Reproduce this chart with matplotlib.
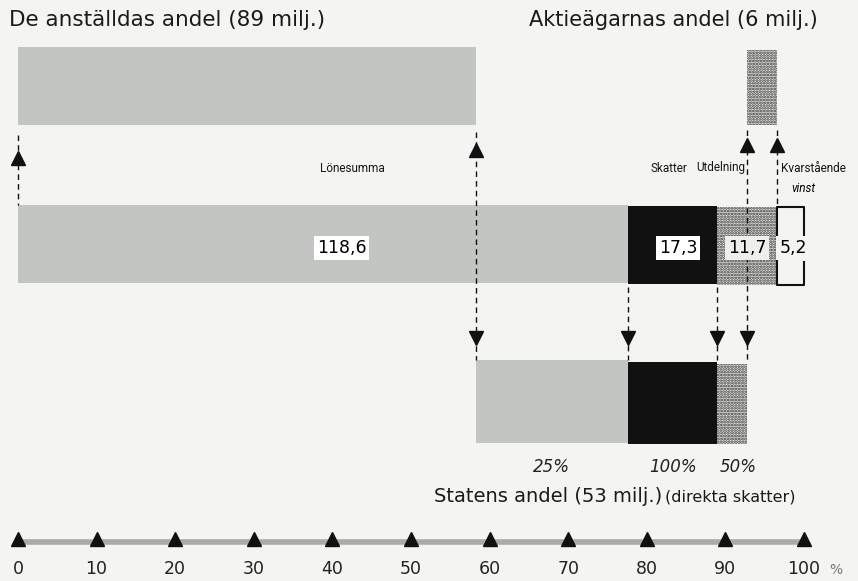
import numpy as np
import matplotlib.pyplot as plt

# data (milj. kr)
parts = ['Lönesumma', 'Skatter', 'Utdelning', 'Kvarstående vinst']
values = [118.6, 17.3, 11.7, 5.2]
state_rates = [25, 100, 50]          # statens andel av lön, skatter, utdelning (%)
ticks = [0, 10, 20, 30, 40, 50, 60, 70, 80, 90, 100]

total = sum(values)
pct = [v / total * 100 for v in values]
edges = np.concatenate([[0], np.cumsum(pct)])

# andelar i procent av totalen
state_wage = pct[0] * state_rates[0] / 100
empl = pct[0] - state_wage
state_div = pct[2] * state_rates[2] / 100
owner = pct[2] - state_div

GREY = '#c3c5c3'
BG = '#f4f4f2'
DOT = '#3a3a3a'
plt.rcParams['hatch.linewidth'] = 1.3

fig = plt.figure(figsize=(8.58, 5.81), dpi=100, facecolor=BG)
ax = fig.add_axes([0, 0, 1, 1])
ax.set_facecolor(BG)
px = 7.86
ax.set_xlim(-18 / px, (858 - 18) / px)
ax.set_ylim(581, 0)
ax.axis('off')

def bar(x0, w, y0, y1, kind):
    if kind == 'grey':
        ax.barh((y0 + y1) / 2, w, left=x0, height=y1 - y0, color=GREY, lw=0)
    elif kind == 'black':
        ax.barh((y0 + y1) / 2, w, left=x0, height=y1 - y0, color='#111111', lw=0)
    else:
        ax.barh((y0 + y1) / 2, w, left=x0, height=y1 - y0, color='#e2e2e0',
                edgecolor=DOT, hatch='......', lw=0)

def dash(x, y0, y1):
    ax.plot([x, x], [y0, y1], color='#111111', lw=1, ls=(0, (4, 3)))

def tri(x, y, up=True):
    ax.plot(x, y, marker='^' if up else 'v', color='#111111', ms=10, mec='#111111')

# topp: anställdas och aktieägarnas andel
bar(0, empl, 47, 125, 'grey')
bar(edges[3] - owner, owner, 50, 125, 'dot')

# mitten: fördelning av förädlingsvärdet
bar(edges[0], pct[0], 205, 283, 'grey')
bar(edges[1], pct[1], 206, 284, 'black')
bar(edges[2], pct[2], 207, 285, 'dot')
kx0, kx1 = edges[3], edges[4]
ax.plot([kx0, kx0, kx1, kx1], [240, 207, 207, 236], color='#111111', lw=1.5)
ax.plot([kx0, kx0, kx1, kx1], [240, 285, 285, 262], color='#111111', lw=1.5)

# botten: statens andel
bar(edges[1] - state_wage, state_wage, 360, 443, 'grey')
bar(edges[1], pct[1], 362, 444, 'black')
bar(edges[2], state_div, 364, 444, 'dot')

# pilar
dash(0, 135, 205); tri(0, 158)
dash(empl, 132, 360); tri(empl, 150); tri(empl, 338, False)
dash(edges[1], 287, 360); tri(edges[1], 338, False)
dash(edges[2], 287, 360); tri(edges[2], 338, False)
dash(edges[3] - owner, 130, 362); tri(edges[3] - owner, 145); tri(edges[3] - owner, 338, False)
dash(edges[3], 130, 205); tri(edges[3], 145)

# rubriker
ax.text(-1.1, 20, 'De anställdas andel (89 milj.)', fontsize=15.5, va='center', ha='left',
        color='#1a1a1a')
ax.text(65, 20, 'Aktieägarnas andel (6 milj.)', fontsize=15, va='center', ha='left',
        color='#1a1a1a')
ax.text(82, 497, 'Statens andel (53 milj.)', fontsize=14, va='center', ha='right',
        color='#1a1a1a')
ax.text(82.3, 497, '(direkta skatter)', fontsize=11.5, va='center', ha='left',
        color='#1a1a1a')

# etiketter
narrow = ['Liberation Sans Narrow', 'Roboto', 'DejaVu Sans']
kw = dict(fontsize=8.5, va='center', family=narrow, color='#151515')
ax.text(42.5, 168, parts[0], ha='center', **kw)
ax.text(82.8, 168, parts[1], ha='center', **kw)
ax.text(edges[3] - owner - 0.25, 168, parts[2], ha='right', **kw)
ax.text(edges[3] + 0.5, 168, 'Kvarstående', ha='left', **kw)
ax.text(98.4, 188, 'vinst', fontsize=8.5, va='center', ha='left', style='italic', family=narrow)

def val(x, s, bg):
    ax.text(x, 248, s.replace('.', ','), fontsize=12.5, va='center', ha='center',
            bbox=dict(facecolor=bg, edgecolor='none', pad=2))

val(41.2, f'{values[0]:.1f}', 'white')
val(84.0, f'{values[1]:.1f}', 'white')
val(92.8, f'{values[2]:.1f}', '#eeeeec')
val(98.6, f'{values[3]:.1f}', BG)

for x, r in zip([empl + state_wage / 2, edges[1] + pct[1] / 2, edges[2] + state_div / 2 + 0.8],
                state_rates):
    ax.text(x, 467, f'{r}%', fontsize=12, va='center', ha='center', style='italic',
            color='#222222')

# skala
ax.plot([ticks[0], ticks[-1]], [542, 542], color='#aaaaaa', lw=4, solid_capstyle='butt')
ax.plot(ticks, [539] * len(ticks), ls='none', marker='^', color='#111111', ms=10)
for t in ticks:
    ax.text(t, 569, str(t), fontsize=12.5, va='center', ha='center', color='#222222')
ax.text(104, 570, '%', fontsize=10, va='center', ha='center', color='#777777')

fig.savefig('out.png', dpi=100, facecolor=BG)
